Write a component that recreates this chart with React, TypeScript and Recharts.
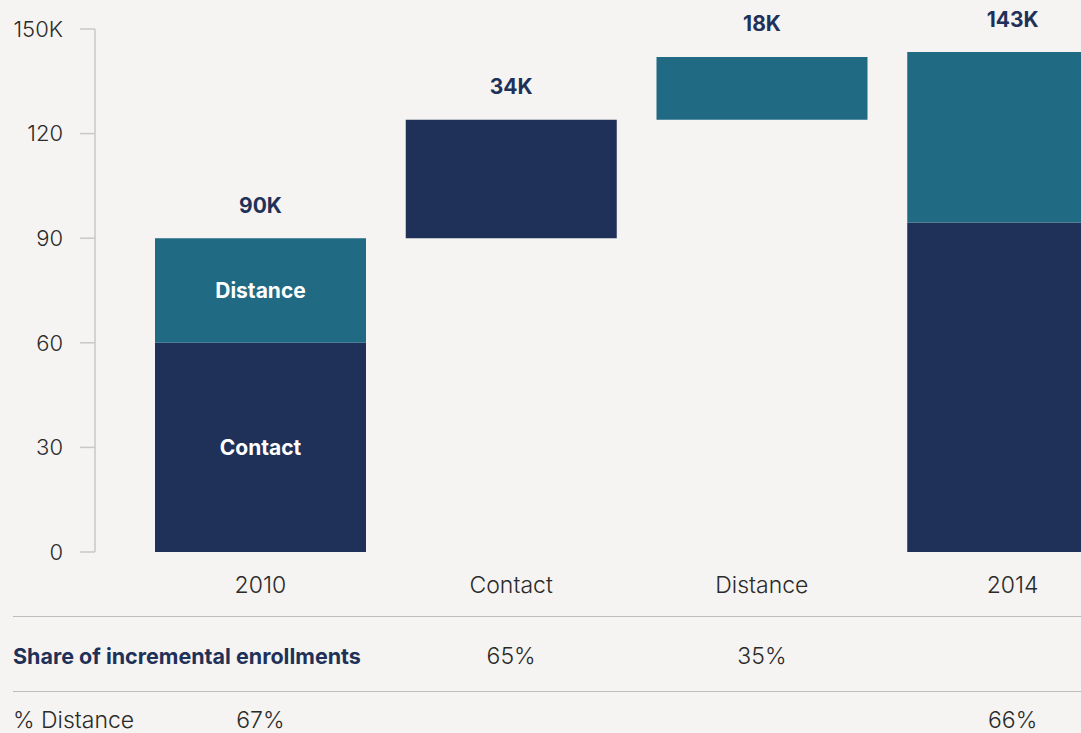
import React from "react";
import { BarChart, Bar, XAxis, YAxis, LabelList } from "recharts";

const categories = ["2010", "Contact", "Distance", "2014"];
const baseValues = [0, 90, 124, 0];
const contactValues = [60, 34, 0, 94.5];
const distanceValues = [30, 0, 18, 48.9];
const totalLabels = ["90K", "34K", "18K", "143K"];
const contactInner = ["Contact", "", "", ""];
const distanceInner = ["Distance", "", "", ""];
const shareRow = ["", "65%", "35%", ""];
const distanceRow = ["67%", "", "", "66%"];
const yTicks = [0, 30, 60, 90, 120, 150];

const NAVY = "#1F3158";
const TEAL = "#206A84";
const BG = "#F5F4F2";
const TEXT = "#2a2a2a";
const FONT = "Inter, 'Noto Sans', sans-serif";

const data = categories.map((c, i) => ({
  name: c,
  base: baseValues[i],
  contact: contactValues[i],
  distance: distanceValues[i],
  total: totalLabels[i],
  contactLabel: contactInner[i],
  distanceLabel: distanceInner[i],
}));

const CategoryTick = ({ x, y, payload }: any) => {
  const i = payload.index;
  const txt = { fontFamily: FONT, fontSize: 23, fontWeight: 300, fill: TEXT, textAnchor: "middle" as const, dominantBaseline: "central" as const };
  return (
    <g>
      <text x={x} y={y + 33} {...txt}>{payload.value}</text>
      <text x={x} y={y + 104} {...txt}>{shareRow[i]}</text>
      <text x={x} y={y + 168} {...txt}>{distanceRow[i]}</text>
    </g>
  );
};

// total label sits on whichever segment is the top of the stack
// (zero-height segments are skipped by LabelList, so look the row up by its label)
const makeTotalLabel = (series: "contact" | "distance") => (props: any) => {
  const { x, y, width, value } = props;
  const i = totalLabels.indexOf(value);
  if (i < 0) return null;
  const isTop = series === "distance" ? distanceValues[i] > 0 : distanceValues[i] === 0;
  if (!isTop) return null;
  return (
    <text key={`t-${series}-${i}`} x={x + width / 2} y={Math.max(y - 33, 19)} textAnchor="middle" dominantBaseline="central"
      fontFamily={FONT} fontSize={21} fontWeight={700} fill={NAVY}>{value}</text>
  );
};

const innerStyle = { fontFamily: FONT, fontSize: 21, fontWeight: 700 };

export default function App() {
  return (
    <div style={{ position: "fixed", top: 0, left: 0, width: 1081, height: 733, background: BG, overflow: "hidden" }}>
      <BarChart width={1140} height={733} data={data} margin={{ top: 29, right: 2, left: 0, bottom: 0 }} barSize={211}>
        <YAxis domain={[0, 150]} ticks={yTicks} width={95} tickSize={15} tickMargin={17}
          axisLine={{ stroke: "#C8C8C8", strokeWidth: 1.5 }} tickLine={{ stroke: "#C8C8C8", strokeWidth: 1.5 }}
          tickFormatter={(v: number) => (v === 150 ? "150K" : String(v))}
          tick={{ fontFamily: FONT, fontSize: 22, fontWeight: 300, fill: TEXT }} />
        <XAxis dataKey="name" height={181} axisLine={false} tickLine={false} tickSize={0} tickMargin={0}
          padding={{ left: 40, right: 0 }} interval={0} tick={<CategoryTick />} />
        <Bar dataKey="base" stackId="a" fill="transparent" isAnimationActive={false} />
        <Bar dataKey="contact" stackId="a" fill={NAVY} isAnimationActive={false}>
          <LabelList dataKey="contactLabel" position="center" fill="#fff" style={innerStyle} />
          <LabelList dataKey="total" content={makeTotalLabel("contact")} />
        </Bar>
        <Bar dataKey="distance" stackId="a" fill={TEAL} isAnimationActive={false}>
          <LabelList dataKey="distanceLabel" position="center" fill="#fff" style={innerStyle} />
          <LabelList dataKey="total" content={makeTotalLabel("distance")} />
        </Bar>
      </BarChart>
      <div style={{ position: "absolute", left: 13, right: 0, top: 616, height: 0, borderTop: "1.5px solid #BDBDBD" }} />
      <div style={{ position: "absolute", left: 13, right: 0, top: 691, height: 0, borderTop: "1.5px solid #BDBDBD" }} />
      <div style={{ position: "absolute", left: 13, top: 642, fontFamily: FONT, fontSize: 21.5, fontWeight: 700, color: NAVY, lineHeight: "28px" }}>
        Share of incremental enrollments
      </div>
      <div style={{ position: "absolute", left: 13, top: 705, fontFamily: FONT, fontSize: 23, fontWeight: 300, color: TEXT, lineHeight: "30px" }}>
        % Distance
      </div>
    </div>
  );
}
